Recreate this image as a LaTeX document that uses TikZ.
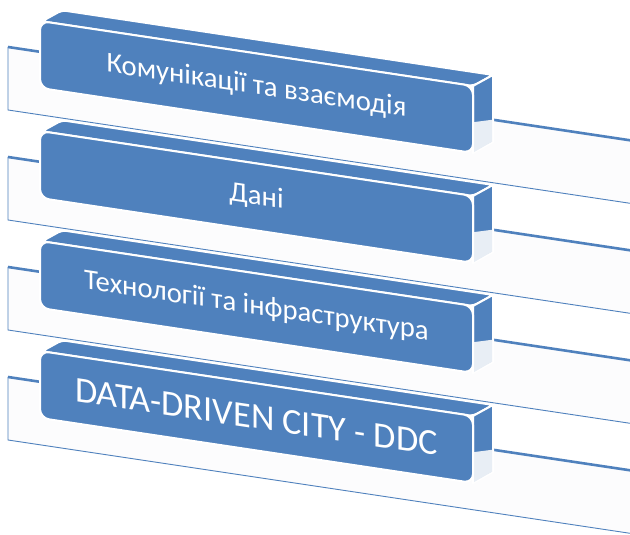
\documentclass[tikz,border=0pt]{standalone}
\usepackage{fontspec}
\setmainfont{Carlito}
\definecolor{acc}{HTML}{4F81BD}
\definecolor{sidegray}{HTML}{E8EEF5}
\definecolor{platefill}{HTML}{FCFCFD}
\begin{document}
\begin{tikzpicture}[x=1bp,y=1bp,
  platebody/.style={fill=platefill},
  plateedge/.style={draw=acc,line width=0.9bp},
  platetop/.style={draw=acc,line width=2.6bp},
  blockface/.style={fill=acc,draw=white,line width=2bp,line join=round},
  facetext/.style={text=white,font=\fontsize{#1}{#1}\selectfont,transform shape,inner sep=0pt}]
\useasboundingbox (0,0) rectangle (630,535);
\clip (0,0) rectangle (630,535);
\fill[white] (0,0) rectangle (630,535);
\foreach \i/\txt/\fs in {0/{Комунікації та взаємодія}/28.8,1/{Дані}/28.8,2/{Технології та інфраструктура}/28.8,3/{DATA-DRIVEN CITY - DDC}/36.4}{
  \begin{scope}[shift={(8,425-110*\i)},yslant=-0.15]
    \fill[platebody] (0,0) rectangle (660,63);
    \draw[plateedge] (0,63) -- (0,0) -- (660,0);
    \draw[platetop] (0,63) -- (660,63);
  \end{scope}
  \begin{scope}[shift={(40,447-110*\i)},yslant=-0.15]
    \filldraw[blockface,rounded corners=4bp] (2,67) -- (433,67) -- (453,81) -- (22,81) -- cycle;
    \filldraw[blockface] (433,0) -- (453,14) -- (453,81) -- (433,67) -- cycle;
    \fill[sidegray] (434,1) -- (452,14) -- (452,36) -- (434,31) -- cycle;
    \filldraw[blockface,rounded corners=9bp] (0,0) rectangle (433,67);
    \node[facetext=\fs] (t\i) at (216.5,33.5) {\txt};
  \end{scope}
}
\end{tikzpicture}
\end{document}
